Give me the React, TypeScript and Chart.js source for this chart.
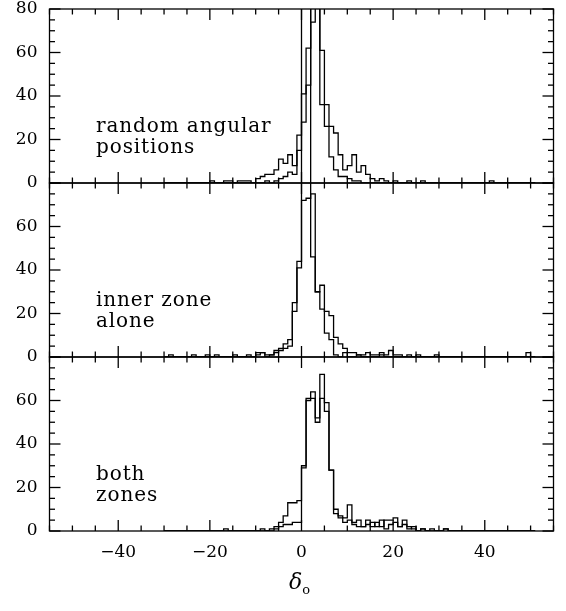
import React, { useEffect, useRef } from "react";
import { Chart, registerables } from "chart.js";

Chart.register(...registerables);

// ---------- data ----------
// bins are 1 unit wide; first bin starts at BIN_START
const BIN_START = -30;
const BIN_WIDTH = 1;
const X_MIN = -55;
const X_MAX = 55;
const X_TICKS = [-40, -20, 0, 20, 40];
const Y_TICKS = [0, 20, 40, 60, 80];
const Y_MAX = 80;

// panel 1: random angular positions
// bins:            -30..-21                 -20..-11                  -10..-1                        0..9                               10..19                   20..29                   30..39                   40..49                 50
const TOP_BROAD = [0,0,0,0,0,0,0,0,0,0,  1,0,0,1,1,0,1,1,1,0,  2,3,4,4,6,11,9,13,8,22,  41,45,74,100,61,36,26,23,13,6,  8,13,5,8,4,2,1,2,1,0,  1,0,0,1,0,0,1,0,0,0,  0,0,0,0,0,0,0,0,0,0,  0,1,0,0,0,0,0,0,0,0,  0];
const TOP_NARROW = [0,0,0,0,0,0,0,0,0,0,  0,0,0,0,0,0,0,0,0,0,  0,0,1,0,1,2,3,5,4,15,  28,62,100,100,36,26,12,6,3,3,  2,1,1,0,0,0,0,0,0,0,  0,0,0,0,0,0,0,0,0,0,  0,0,0,0,0,0,0,0,0,0,  0,0,0,0,0,0,0,0,0,0,  0];

// panel 2: inner zone alone
const MID_BROAD = [0,1,0,0,0,0,1,0,0,1,  0,1,0,0,0,1,0,0,1,0,  2,2,1,1,3,4,6,8,25,44,  72,73,75,30,33,21,19,9,6,4,  2,2,1,1,2,1,1,2,1,3,  1,1,0,1,0,1,0,0,0,1,  0,0,0,0,0,0,0,0,0,0,  0,0,0,0,0,0,0,0,0,2,  0];
const MID_NARROW = [0,0,0,0,0,0,0,0,0,0,  0,0,0,0,0,0,0,0,0,0,  1,2,0,1,2,3,4,5,21,41,  200,200,46,30,22,11,8,1,0,2,  0,0,1,0,0,0,0,1,0,0,  0,0,0,0,0,0,0,0,0,0,  0,0,0,0,0,0,0,0,0,0,  0,0,0,0,0,0,0,0,0,0,  0];

// panel 3: both zones
const BOT_A = [0,0,0,0,0,0,0,0,0,0,  0,0,0,1,0,0,0,0,0,0,  0,1,0,1,2,4,7,13,13,14,  29,61,64,52,72,59,28,10,7,6,  12,4,5,2,3,4,2,5,1,3,  4,2,3,1,2,0,1,0,0,0,  0,1,0,0,0,0,0,0,0,0,  0,0,0,0,0,0,0,0,0,0,  0];
const BOT_B = [0,0,0,0,0,0,0,0,0,0,  0,0,0,0,0,0,0,0,0,0,  0,0,0,0,1,2,3,3,4,4,  30,60,61,50,61,55,28,8,6,4,  5,3,2,2,5,2,4,2,5,5,  6,2,5,2,1,0,1,0,1,0,  0,1,0,0,0,0,0,0,0,0,  0,0,0,0,0,0,0,0,0,0,  0];

const PANEL_TEXT = [
  ["random angular", "positions"],
  ["inner zone", "alone"],
  ["both", "zones"],
];

const PANELS = [
  { id: "yTop", series: [TOP_BROAD, TOP_NARROW], showMaxLabel: true, weight: 3 },
  { id: "yMid", series: [MID_BROAD, MID_NARROW], showMaxLabel: false, weight: 2 },
  { id: "yBot", series: [BOT_A, BOT_B], showMaxLabel: false, weight: 1 },
];

// ---------- layout / style ----------
const W = 566;
const H = 611;
const FONT = "'DejaVu Serif', serif";
const MAJOR_TICK = 11;
const MINOR_TICK = 5.5;
const LINE_W = 1.3;
const PANEL_H = 174; // lets the middle panel's overflowing bins run up through the top panel

function stepPoints(counts: number[]) {
  const pts = counts.map((c, i) => ({ x: BIN_START + i * BIN_WIDTH, y: c }));
  pts.push({ x: BIN_START + counts.length * BIN_WIDTH, y: 0 });
  return pts;
}

function fmtX(v: number) {
  return v < 0 ? "\u2212" + Math.abs(v) : String(v);
}

const framePlugin = {
  id: "panelFrames",
  afterDatasetsDraw(chart: any) {
    const { ctx, chartArea, scales } = chart;
    const xs = scales.x;
    const left = chartArea.left;
    const right = chartArea.right;
    ctx.save();
    ctx.strokeStyle = "#000";
    ctx.lineWidth = LINE_W;
    const seg = (x1: number, y1: number, x2: number, y2: number) => {
      ctx.beginPath();
      ctx.moveTo(x1, y1);
      ctx.lineTo(x2, y2);
      ctx.stroke();
    };
    for (const p of PANELS) {
      const s = scales[p.id];
      const top = s.getPixelForValue(Y_MAX);
      const bottom = s.getPixelForValue(0);
      ctx.strokeRect(left, top, right - left, bottom - top);
      for (let v = Math.ceil(X_MIN / 5) * 5; v <= X_MAX; v += 5) {
        const px = xs.getPixelForValue(v);
        const len = v % 20 === 0 ? MAJOR_TICK : MINOR_TICK;
        seg(px, bottom, px, bottom - len);
        seg(px, top, px, top + len);
      }
      for (let v = 0; v <= Y_MAX; v += 5) {
        const py = s.getPixelForValue(v);
        const len = v % 20 === 0 ? MAJOR_TICK : MINOR_TICK;
        seg(left, py, left + len, py);
        seg(right, py, right - len, py);
      }
    }
    ctx.restore();
  },
};

export default function App() {
  const canvasRef = useRef<HTMLCanvasElement | null>(null);

  useEffect(() => {
    const canvas = canvasRef.current;
    if (!canvas) return;

    const datasets: any[] = [];
    PANELS.forEach((p) => {
      p.series.forEach((arr, k) => {
        datasets.push({
          data: stepPoints(arr),
          yAxisID: p.id,
          xAxisID: "x",
          stepped: true,
          borderColor: "#000",
          borderWidth: LINE_W,
          pointRadius: 0,
          fill: false,
          clip: p.id === "yMid" && k === 1 ? { left: 0, right: 0, bottom: 0, top: PANEL_H } : 0,
        });
      });
    });

    const scales: any = {
      x: {
        type: "linear",
        position: "bottom",
        min: X_MIN,
        max: X_MAX,
        afterBuildTicks: (s: any) => {
          s.ticks = X_TICKS.map((v) => ({ value: v }));
        },
        afterFit: (s: any) => {
          s.height = 80;
          s.paddingLeft = 0;
          s.paddingRight = 0;
        },
        ticks: {
          callback: (v: any) => fmtX(Number(v)),
          font: { family: FONT, size: 17 },
          color: "#000",
          padding: 11,
          maxRotation: 0,
          autoSkip: false,
        },
        grid: { display: false, drawTicks: false },
        border: { display: false },
      },
    };
    PANELS.forEach((p) => {
      scales[p.id] = {
        type: "linear",
        position: "left",
        stack: "panels",
        stackWeight: 1,
        weight: p.weight,
        min: 0,
        max: Y_MAX,
        afterBuildTicks: (s: any) => {
          s.ticks = Y_TICKS.filter((v) => p.showMaxLabel || v !== Y_MAX).map((v) => ({ value: v }));
        },
        afterFit: (s: any) => {
          s.width = 49.5;
          s.paddingTop = 0;
          s.paddingBottom = 0;
        },
        ticks: {
          font: { family: FONT, size: 17 },
          color: "#000",
          padding: 12,
        },
        grid: { display: false, drawTicks: false },
        border: { display: false },
      };
    });

    const chart = new Chart(canvas, {
      type: "line",
      data: { datasets },
      options: {
        animation: false,
        responsive: false,
        devicePixelRatio: 1,
        layout: { padding: { top: 9, right: 12.5, left: 0, bottom: 0 } },
        plugins: { legend: { display: false }, tooltip: { enabled: false } },
        scales,
      },
      plugins: [framePlugin],
    } as any);

    return () => chart.destroy();
  }, []);

  const textStyle: React.CSSProperties = {
    position: "absolute",
    left: 96,
    fontFamily: FONT,
    fontSize: 20,
    lineHeight: "21px",
    letterSpacing: "0.9px",
    color: "#000",
    whiteSpace: "pre",
  };
  const tops = [115, 289, 463];

  return (
    <div style={{ position: "absolute", left: 0, top: 0, width: W, height: H, background: "#fff" }}>
      <canvas ref={canvasRef} width={W} height={H} style={{ position: "absolute", left: 0, top: 0 }} />
      {PANEL_TEXT.map((lines, i) => (
        <div key={i} style={{ ...textStyle, top: tops[i] }}>
          {lines.join("\n")}
        </div>
      ))}
      <div
        style={{
          position: "absolute",
          left: 289,
          top: 569,
          fontFamily: FONT,
          fontSize: 22,
          fontStyle: "italic",
          color: "#000",
          whiteSpace: "nowrap",
        }}
      >
        δ<sub style={{ fontStyle: "normal", fontSize: 13, verticalAlign: "-5px" }}>o</sub>
      </div>
    </div>
  );
}
